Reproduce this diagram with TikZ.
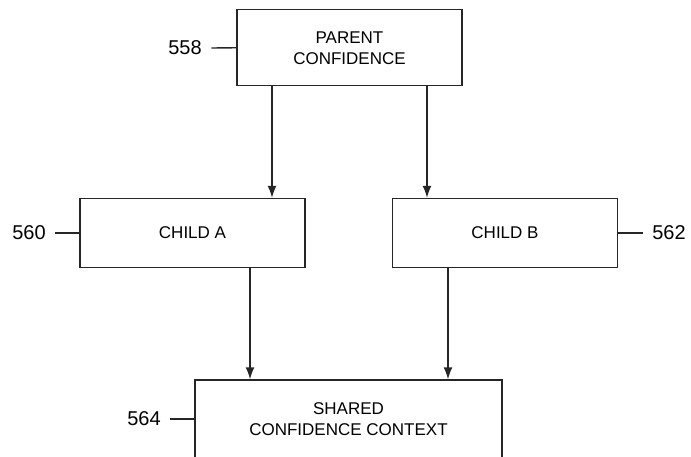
\documentclass[tikz,border=0pt]{standalone}
\usepackage{fontspec}
\setmainfont{Liberation Sans}
\usetikzlibrary{arrows.meta}

\begin{document}
\begin{tikzpicture}[x=1pt, y=-1pt,
			>={Latex[length=12pt,width=9pt]},   %Pfeilspitzen
			box/.style={draw, minimum width=225pt, align=center, font=\fontsize{17}{21}\selectfont},
			refnum/.style={font=\fontsize{20}{24}\selectfont, inner sep=9pt},
			line width=1.4pt, draw=black!85]
			% Bildbereich
			\clip (0,0) rectangle (691,456);
			% Kaesten zeichnen
			\node[box, minimum height=76pt] (parent) at (349.5,47.75) {PARENT\\CONFIDENCE};
			\node[box, minimum height=69pt] (childA) at (192.5,233) {CHILD A};
			\node[box, minimum height=69pt] (childB) at (505,233) {CHILD B};
			\node[box, minimum height=78pt, minimum width=307pt] (shared) at (348.5,419) {SHARED\\CONFIDENCE CONTEXT};
			% Bezugszeichen
			\node[refnum] (n558) at (185,48) {558};
			\node[refnum] (n560) at (29,233) {560};
			\node[refnum] (n562) at (669,233) {562};
			\node[refnum] (n564) at (144,419) {564};
			\draw (n558.east) -- (parent.west);
			\draw (n560.east) -- (childA.west);
			\draw (childB.east) -- (n562.west);
			\draw (n564.east) -- (shared.west);
			% Pfeile zeichnen
			\draw[->] ([xshift=-77.5pt]parent.south) -- ([xshift=-77.5pt]parent.south |- childA.north);
			\draw[->] ([xshift=77.5pt]parent.south) -- ([xshift=77.5pt]parent.south |- childB.north);
			\draw[->] ([xshift=57.5pt]childA.south) -- ([xshift=57.5pt]childA.south |- shared.north);
			\draw[->] ([xshift=-57pt]childB.south) -- ([xshift=-57pt]childB.south |- shared.north);
		\end{tikzpicture}
\end{document}
